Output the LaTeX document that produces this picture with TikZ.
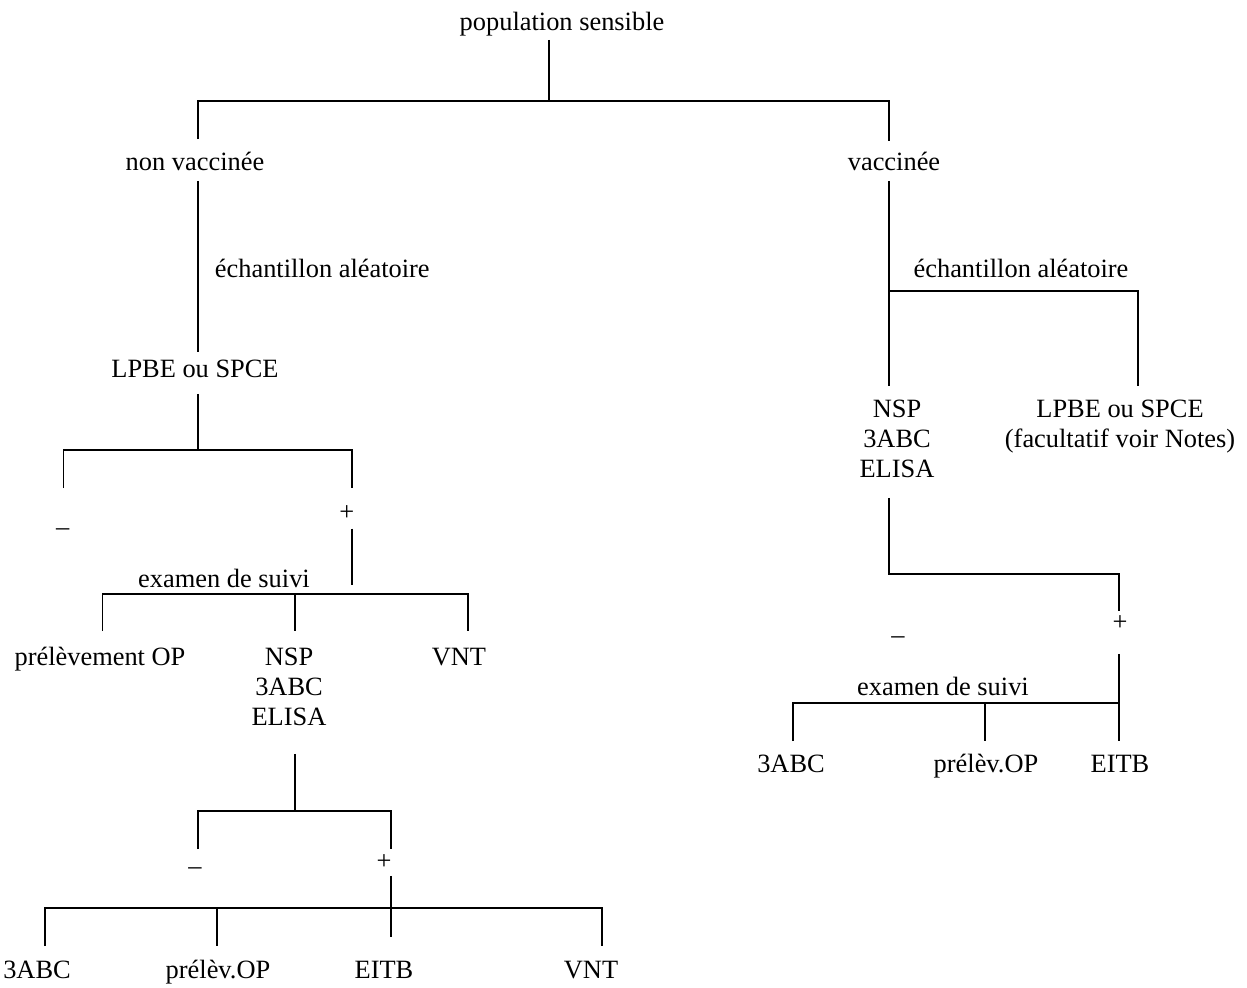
\documentclass[tikz,border=0pt]{standalone}
\usepackage{fontspec}
\setmainfont{Liberation Serif}
\begin{document}
\begin{tikzpicture}[x=0.5pt,y=-0.5pt,line width=0.9pt,
  lbl/.style={anchor=base,inner sep=0pt,text height=9pt,text depth=3pt,
    font=\fontsize{13.2}{15}\selectfont},
  stack/.style={lbl,align=center}]
  \useasboundingbox (0,0) rectangle (1247,987);

  \node[lbl,text depth=4.5pt] (pop) at (562,30) {population sensible};
  \node[lbl,text height=15pt,text depth=5pt] (nonvac) at (195,170) {non vaccinée};
  \node[lbl,text height=14.2pt,text depth=5pt] (vac) at (894,170) {vaccinée};
  \coordinate (top) at (549,101);
  \coordinate (topl) at (198,101);
  \coordinate (topr) at (889,101);
  \draw (pop.south -| top) -- (top);
  \draw (nonvac.north -| topl) |- (topr) -- (vac.north -| topr);

  \node[lbl,anchor=base west] (ech1) at (214,277) {échantillon aléatoire};
  \node[lbl,text height=12pt,text depth=8pt] (lpbe1) at (195,377) {LPBE ou SPCE};
  \draw (nonvac.south -| topl) -- (lpbe1.north -| topl);

  \coordinate (b2) at (198,450);
  \coordinate (b2l) at (63.5,450);
  \coordinate (b2r) at (352,450);
  \node[lbl,text height=23.3pt] (neg1) at (62.7,535.6) {–};
  \node[lbl,text height=15.8pt,text depth=3.5pt] (pos1) at (346.7,520.6) {+};
  \draw (lpbe1.south -| b2) -- (b2);
  \draw (neg1.north -| b2l) |- (b2r) -- (pos1.north -| b2r);

  \coordinate (b3top) at (352,585);
  \draw (pos1.south -| b2r) -- (b3top);
  \node[lbl] (exam1) at (224,587) {examen de suivi};
  \coordinate (b3l) at (102.5,594);
  \coordinate (b3m) at (294.6,594);
  \coordinate (b3r) at (467.6,594);
  \node[lbl,text height=16.5pt] (prel1) at (100,665) {prélèvement OP};
  \node[stack,text height=46.5pt,text depth=14pt] (nsp1) at (289,725) {NSP\\3ABC\\ELISA};
  \node[lbl,text height=16.5pt] (vnt1) at (459,665) {VNT};
  \draw (prel1.north -| b3l) |- (b3r) -- (vnt1.north -| b3r);
  \draw (b3m) -- (nsp1.north -| b3m);

  \coordinate (b4) at (294.6,811);
  \coordinate (b4l) at (198,811);
  \coordinate (b4r) at (391,811);
  \node[lbl,text height=12pt] (neg2) at (195,874) {–};
  \node[lbl,text height=9.8pt,text depth=2.7pt] (pos2) at (384,869.6) {+};
  \draw (nsp1.south -| b4) -- (b4);
  \draw (neg2.north -| b4l) |- (b4r) -- (pos2.north -| b4r);

  \coordinate (b5l) at (45,908);
  \coordinate (b5m) at (217,908);
  \coordinate (b5r) at (602,908);
  \foreach \x/\name/\txt in {37/abc3/3ABC,218/prel3/prélèv.OP,591/vnt3/VNT}
    \node[lbl,text height=15.5pt] (\name) at (\x,978) {\txt};
  \node[lbl,text height=20pt] (eitb3) at (384,978) {EITB};
  \draw (abc3.north -| b5l) |- (b5r) -- (vnt3.north -| b5r);
  \draw (b5m) -- (prel3.north -| b5m);
  \draw (pos2.south -| b4r) -- (eitb3.north -| b4r);

  \node[lbl] (ech2) at (1021,277) {échantillon aléatoire};
  \node[stack,text height=45pt,text depth=10pt] (nsp2) at (897,477) {NSP\\3ABC\\ELISA};
  \node[stack,text height=30pt] (lpbe2) at (1120,447) {LPBE ou SPCE\\(facultatif voir Notes)};
  \coordinate (b6) at (889,291);
  \coordinate (b6r) at (1138,291);
  \draw (vac.south -| topr) -- (nsp2.north -| topr);
  \draw (b6) -| (lpbe2.north -| b6r);

  \coordinate (b7r) at (1119,574);
  \node[lbl,text height=9.3pt,text depth=11.2pt] (pos3) at (1120,630.6) {+};
  \node[lbl] (neg3) at (898,643) {–};
  \draw (nsp2.south -| b6) |- (b7r) -- (pos3.north -| b7r);

  \node[lbl] (exam3) at (943,695) {examen de suivi};
  \coordinate (b8l) at (793,703);
  \coordinate (b8m) at (985,703);
  \coordinate (b8r) at (1119,703);
  \foreach \x/\name/\txt in {791/abc4/3ABC,986/prel4/prélèv.OP,1120/eitb4/EITB}
    \node[lbl,text height=15pt] (\name) at (\x,772) {\txt};
  \draw (pos3.south -| b7r) -- (eitb4.north -| b7r);
  \draw (abc4.north -| b8l) |- (b8r);
  \draw (b8m) -- (prel4.north -| b8m);
\end{tikzpicture}
\end{document}
